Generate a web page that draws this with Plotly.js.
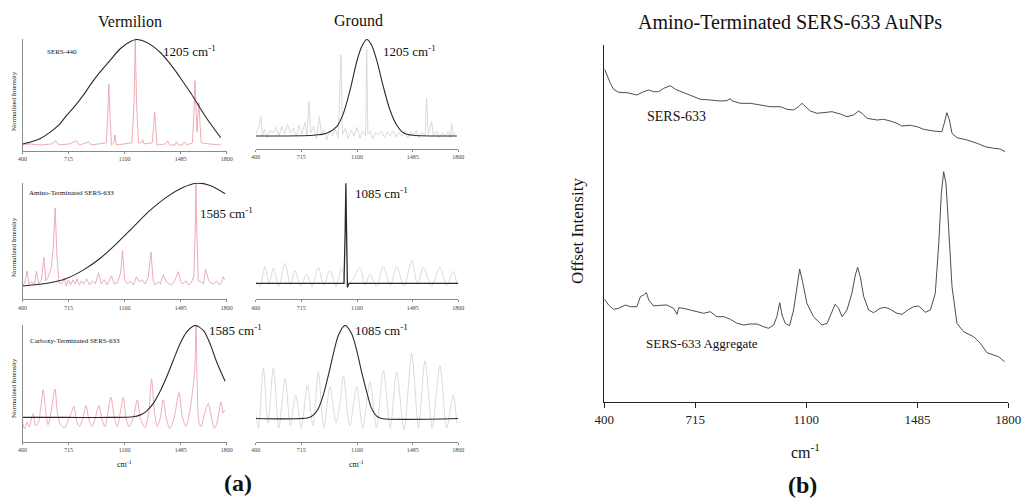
<!DOCTYPE html>
<html>
<head>
<meta charset="utf-8">
<script src="https://cdn.plot.ly/plotly-3.0.1.min.js"></script>
<style>html,body{margin:0;padding:0;background:#fff;}#chart{width:1022px;height:498px;}</style>
</head>
<body>
<div id="chart"></div>
<script>
// ---------- DATA ----------
const tickVals = [400, 715, 1100, 1485, 1800];
const tickText = ['400', '715', '1100', '1485', '1800'];

// (a) Vermilion, SERS-440
const v1SpecX = [400,450,520,600,629,650,720,771,790,857,870,940,975,985,992,1000,1010,1025,1034,1042,1100,1150,1165,1173,1182,1195,1215,1224,1233,1290,1300,1306,1312,1322,1380,1395,1410,1445,1457,1470,1495,1509,1525,1565,1575,1583,1591,1597,1603,1610,1617,1625,1680,1759];
const v1SpecY = [0.0,0.01,0.0,0.01,0.04,0.0,0.01,0.04,0.0,0.03,0.0,0.01,0.02,0.3,0.58,0.3,0.0,0.02,0.095,0.0,0.01,0.02,0.4,1.0,0.4,0.02,0.02,0.05,0.01,0.02,0.2,0.315,0.2,0.0,0.01,0.04,0.0,0.0,0.03,0.0,0.0,0.03,0.0,0.02,0.3,0.61,0.3,0.12,0.3,0.40,0.2,0.02,0.01,0.0];
const v1FitX = [400,460,519,588,650,702,760,816,870,931,999,1068,1137,1182,1230,1300,1350,1400,1450,1500,1550,1600,1650,1700,1759];
const v1FitY = [0.01,0.03,0.06,0.12,0.19,0.28,0.37,0.47,0.58,0.69,0.80,0.91,0.98,1.0,0.985,0.93,0.87,0.79,0.70,0.60,0.50,0.39,0.28,0.18,0.07];

// (a) Ground, SERS-440
const g1SpecX = [400,420,435,445,460,480,500,520,540,560,580,600,620,640,660,680,700,720,740,755,768,780,800,820,840,855,870,890,910,930,950,970,989,1000,1020,1040,1060,1080,1100,1120,1140,1160,1167,1175,1190,1210,1230,1250,1270,1290,1310,1330,1350,1370,1390,1410,1430,1450,1470,1490,1510,1530,1550,1570,1581,1592,1605,1616,1628,1650,1670,1690,1710,1730,1745,1754,1765,1780];
const g1SpecY = [0.02,0.08,0.2,0.0,0.07,-0.02,0.06,0.03,0.09,0.0,0.1,0.02,0.12,0.03,0.08,0.0,0.11,0.02,0.14,0.0,0.36,0.03,0.1,-0.03,0.2,0.0,0.06,-0.04,0.05,0.0,0.07,-0.02,0.84,0.02,0.08,-0.03,0.06,0.0,0.09,-0.02,0.05,0.0,0.9,0.02,0.05,-0.03,0.04,0.01,0.05,-0.02,0.04,0.0,0.05,-0.01,0.04,0.0,0.05,-0.02,0.04,0.01,0.06,-0.02,0.04,0.0,0.39,0.02,0.08,0.15,0.0,0.05,-0.02,0.04,0.0,0.05,-0.02,0.13,0.0,0.04];
const g1FitX = [400,798,890,960,1006,1052,1098,1132,1167,1201,1236,1282,1328,1374,1420,1489,1754,1790];
const g1FitY = [0.0,0.007,0.028,0.097,0.234,0.476,0.769,0.924,1.0,0.941,0.786,0.51,0.269,0.114,0.034,0.007,0.0,0.0];

// (a) Vermilion, Amino-Terminated SERS-633
const v2SpecX = [400,415,432,445,465,480,496,510,530,546,560,580,599,612,624,636,650,670,686,700,715,730,745,760,775,790,805,820,840,860,880,900,921,940,960,980,1010,1030,1050,1072,1086,1100,1120,1140,1160,1182,1200,1220,1240,1262,1281,1295,1310,1330,1345,1365,1385,1400,1420,1440,1468,1485,1500,1520,1540,1560,1575,1583,1589,1595,1605,1625,1640,1656,1675,1690,1710,1730,1750,1765,1777,1785];
const v2SpecY = [0.0,0.03,0.145,0.02,0.04,0.01,0.145,0.02,0.06,0.28,0.05,0.1,0.19,0.4,0.76,0.3,0.03,0.02,0.08,0.0,0.06,0.01,0.06,0.02,0.07,0.01,0.05,0.02,0.07,0.01,0.05,0.02,0.13,0.02,0.06,0.01,0.1,0.02,0.03,0.12,0.35,0.06,0.02,0.05,0.01,0.09,0.04,0.06,0.02,0.08,0.33,0.06,0.01,0.04,0.02,0.11,0.04,0.03,0.01,0.04,0.14,0.04,0.02,0.05,0.01,0.04,0.1,0.5,1.0,0.5,0.05,0.04,0.02,0.165,0.06,0.03,0.02,0.05,0.01,0.04,0.09,0.06];
const v2FitX = [400,588,702,816,931,1045,1159,1274,1388,1503,1594,1686,1789];
const v2FitY = [0.0,0.032,0.074,0.155,0.268,0.413,0.574,0.735,0.865,0.961,1.0,0.977,0.897];

// (a) Ground, Amino-Terminated SERS-633
const g2SpecX = [400,430,464,490,505,522,560,603,640,672,710,752,790,833,870,913,955,994,1030,1075,1121,1155,1190,1235,1282,1330,1374,1425,1478,1518,1558,1615,1673,1720,1765,1790];
const g2SpecY = [0.02,-0.03,0.17,0.0,0.05,0.15,-0.03,0.2,-0.02,0.13,-0.03,0.09,-0.03,0.16,-0.02,0.13,-0.03,0.15,-0.02,0.05,0.16,-0.02,0.09,-0.03,0.17,-0.02,0.165,-0.03,0.23,-0.01,0.16,-0.03,0.16,-0.02,0.12,0.0];
const g2FitX = [400,1010,1018,1023,1028,1034,1045,1800];
const g2FitY = [0.0,0.0,0.5,1.0,0.5,-0.04,0.0,0.0];

// (a) Vermilion, Carboxy-Terminated SERS-633
const v3SpecX = [400,415,430,445,473,490,510,525,542,560,575,600,622,640,660,690,715,735,752,770,790,815,835,855,875,900,924,945,965,985,1006,1030,1050,1070,1091,1110,1130,1160,1187,1210,1240,1265,1285,1305,1325,1345,1365,1385,1410,1440,1473,1495,1520,1545,1567,1580,1590,1597,1610,1625,1650,1674,1695,1715,1735,1761,1775,1785];
const v3SpecY = [-0.06,-0.12,-0.05,-0.1,0.04,-0.09,-0.05,0.1,0.3,0.05,-0.08,0.1,0.31,0.05,-0.08,-0.11,-0.02,0.05,0.12,-0.03,-0.1,0.0,0.13,-0.02,-0.1,0.0,0.13,-0.02,-0.1,0.05,0.22,0.0,-0.1,0.05,0.22,0.0,-0.1,0.0,0.19,-0.02,-0.11,0.05,0.42,0.05,-0.1,0.0,0.19,0.0,-0.12,0.0,0.27,0.02,-0.1,0.05,0.3,0.5,1.0,0.4,-0.05,-0.1,0.05,0.15,0.0,-0.12,-0.05,0.17,0.05,0.08];
const v3FitX = [400,700,1000,1159,1205,1251,1297,1342,1388,1434,1480,1525,1583,1640,1686,1731,1789];
const v3FitY = [0.0,0.0,0.0,0.007,0.025,0.069,0.152,0.278,0.44,0.621,0.801,0.928,1.0,0.946,0.801,0.603,0.394];

// (a) Ground, Carboxy-Terminated SERS-633
const g3SpecX = [400,420,453,485,522,560,603,640,676,715,757,795,833,870,913,955,985,1006,1050,1098,1140,1190,1235,1282,1330,1374,1425,1478,1525,1570,1620,1673,1720,1765,1790];
const g3SpecY = [0.05,-0.1,0.54,-0.05,0.54,-0.1,0.43,-0.08,0.25,-0.1,0.36,-0.08,0.5,-0.1,0.34,-0.05,0.2,0.46,-0.08,0.34,-0.1,0.39,-0.1,0.52,-0.1,0.5,-0.12,0.70,-0.1,0.62,-0.1,0.57,-0.1,0.25,-0.05];
const g3FitX = [400,764,798,833,867,902,937,971,1017,1063,1098,1132,1167,1201,1236,1270,1800];
const g3FitY = [0.0,0.007,0.036,0.107,0.25,0.464,0.696,0.893,1.0,0.911,0.732,0.5,0.286,0.107,0.025,0.0,0.0];

// (b) Amino-Terminated SERS-633 AuNPs (offset intensity, arbitrary units)
const sersX = [401,409,421,432,450,479,513,536,554,571,588,606,629,646,675,709,733,767,802,825,837,842,871,906,941,975,1010,1033,1056,1073,1085,1097,1114,1137,1160,1189,1218,1241,1264,1281,1293,1310,1345,1368,1391,1414,1431,1460,1484,1507,1541,1570,1578,1587,1596,1605,1622,1657,1692,1720,1749,1772,1789];
const sersY = [332.7,327,318.7,312.7,309.7,309.3,307,310.3,312,310.3,310.3,313.7,316.3,312.7,309.3,305.3,302.7,302,301,301.3,303.3,301.3,298.7,298.7,297,295.3,295.3,292.7,292,295.3,298.7,295.3,291,288.7,289.3,290.3,288,285.3,287,291,288.7,283.7,282,282.7,281,278.7,276,276.7,275.3,272.7,271,270.3,278.7,289.3,282,268.7,264.3,262,258.7,255.3,253.7,253,250.3];
const aggX = [401,415,432,450,473,490,513,525,536,546,554,571,594,617,640,652,658,675,698,721,744,767,790,814,837,860,883,906,929,952,969,987,998,1008,1016,1027,1042,1056,1068,1077,1087,1102,1125,1154,1172,1189,1200,1212,1224,1241,1258,1270,1278,1287,1299,1316,1333,1356,1374,1391,1414,1432,1455,1472,1489,1501,1512,1530,1547,1559,1568,1576,1584,1593,1605,1622,1645,1680,1703,1726,1749,1766,1787];
const aggY = [102.7,97,92.7,93.7,97,95.3,95.3,105.3,107,109.3,102,96,96.7,97,93.7,87.7,94.3,93.7,92,90.3,88.7,90.3,85.3,85.3,82.7,78.7,77,78,78,75.3,73.7,77,85.3,99.3,87,78.7,76.3,92,115.3,133,120.3,98.7,85.3,77,78.7,89.3,97.7,93.7,85.3,92,108.7,127,134.7,125.3,105.3,92,89.3,93.7,94.7,92.7,88.7,87.7,92.7,95.3,96,93,89.7,92,108.7,158.7,208.7,230.3,218.7,175.3,115.3,78.7,70.3,65.3,58.7,49.3,47,45.3,40.3];

// ---------- LAYOUT HELPERS ----------
const W = 1022, H = 498;
const fx = p => p / W;
const fy = p => 1 - p / H;
const dx = (a, b) => [fx(a), fx(b)];
const dy = (top, bot) => [fy(bot), fy(top)];
const SERIF = 'Liberation Serif, Times New Roman, serif';

const PINK = '#eca3ad';
const GRAY = '#d6d6d6';
const BLK = '#2a2a2a';

function spec(x, y, ax, color, shape, w) {
  return {x: x, y: y, xaxis: 'x' + ax, yaxis: 'y' + ax, type: 'scatter', mode: 'lines',
    line: {color: color, width: w || 0.9, shape: shape || 'linear', smoothing: 0.8},
    hoverinfo: 'skip', showlegend: false};
}

const data = [
  spec(v1SpecX, v1SpecY, '', PINK),
  spec(v1FitX, v1FitY, '', BLK, 'spline', 1.1),
  spec(g1SpecX, g1SpecY, '2', GRAY),
  spec(g1FitX, g1FitY, '2', BLK, 'spline', 1.1),
  spec(v2SpecX, v2SpecY, '3', PINK),
  spec(v2FitX, v2FitY, '3', BLK, 'spline', 1.1),
  spec(g2SpecX, g2SpecY, '4', GRAY, 'spline'),
  spec(g2FitX, g2FitY, '4', BLK, 'linear', 1.3),
  spec(v3SpecX, v3SpecY, '5', PINK, 'spline'),
  spec(v3FitX, v3FitY, '5', BLK, 'spline', 1.1),
  spec(g3SpecX, g3SpecY, '6', GRAY, 'spline'),
  spec(g3FitX, g3FitY, '6', BLK, 'spline', 1.1),
  spec(sersX, sersY, '7', '#3a3a3a', 'linear', 0.9),
  spec(aggX, aggY, '7', '#3a3a3a', 'linear', 0.9)
];

function xA(dom, anchor) {
  return {domain: dom, anchor: anchor, range: [400, 1800], tickmode: 'array', tickvals: tickVals, ticktext: tickText,
    showline: true, linecolor: '#8a8a8a', linewidth: 1, ticks: 'outside', ticklen: 2, tickcolor: '#8a8a8a', tickwidth: 1,
    tickfont: {family: SERIF, size: 6, color: '#444'}, showgrid: false, zeroline: false, fixedrange: true};
}
function yA(dom, anchor, rng, line) {
  return {domain: dom, anchor: anchor, range: rng, showticklabels: false, ticks: '', showgrid: false, zeroline: false,
    showline: line, linecolor: '#8a8a8a', linewidth: 1, fixedrange: true};
}

const LX = dx(22.5, 226.7), GX = dx(255.7, 458.3);
const R1 = dy(39, 151), R2 = dy(182.7, 299.3), R3 = dy(325, 441.7);

const layout = {
  width: W, height: H, margin: {l: 0, r: 0, t: 0, b: 0}, paper_bgcolor: '#fff', plot_bgcolor: 'rgba(0,0,0,0)',
  showlegend: false, font: {family: SERIF, color: '#222'},
  xaxis: xA(LX, 'y'), yaxis: yA(R1, 'x', [-0.057, 1.005], true),
  xaxis2: xA(GX, 'y2'), yaxis2: yA(dy(39, 149), 'x2', [-0.135, 1.005], false),
  xaxis3: xA(LX, 'y3'), yaxis3: yA(R2, 'x3', [-0.129, 1.005], true),
  xaxis4: xA(GX, 'y4'), yaxis4: yA(R2, 'x4', [-0.159, 1.005], false),
  xaxis5: xA(LX, 'y5'), yaxis5: yA(R3, 'x5', [-0.264, 1.005], true),
  xaxis6: xA(GX, 'y6'), yaxis6: yA(R3, 'x6', [-0.25, 1.005], false),
  xaxis7: {domain: dx(604.3, 1008.3), anchor: 'y7', range: [400, 1800], tickmode: 'array', tickvals: tickVals, ticktext: tickText,
    showline: true, linecolor: '#222', linewidth: 1.2, ticks: 'outside', ticklen: 5, tickcolor: '#222', tickwidth: 1,
    tickfont: {family: SERIF, size: 13, color: '#222'}, showgrid: false, zeroline: false, fixedrange: true},
  yaxis7: {domain: dy(45, 402), anchor: 'x7', range: [0, 357], showticklabels: false, ticks: '', showgrid: false, zeroline: false,
    showline: true, linecolor: '#222', linewidth: 1.2, fixedrange: true},
  annotations: []
};

function ann(text, x, y, size, opts) {
  const a = Object.assign({text: text, x: fx(x), y: fy(y), xref: 'paper', yref: 'paper', showarrow: false,
    xanchor: 'center', yanchor: 'middle', font: {family: SERIF, size: size, color: '#111'}}, opts || {});
  layout.annotations.push(a);
}

ann('Vermilion', 130, 22, 16);
ann('Ground', 358, 20, 16);
ann('SERS-440', 62, 52, 7);
ann('Amino-Terminated SERS-633', 71, 193, 7);
ann('Carboxy-Terminated SERS-633', 75, 341, 7);
ann('1205 cm<sup>-1</sup>', 161, 51, 13, {xanchor: 'left'});
ann('1205 cm<sup>-1</sup>', 381, 51, 13, {xanchor: 'left'});
ann('1585 cm<sup>-1</sup>', 198, 213, 13, {xanchor: 'left'});
ann('1085 cm<sup>-1</sup>', 353, 193, 13, {xanchor: 'left'});
ann('1585 cm<sup>-1</sup>', 207, 330, 13, {xanchor: 'left'});
ann('1085 cm<sup>-1</sup>', 353, 330, 13, {xanchor: 'left'});
ann('Normalized Intensity', 14, 101, 7, {textangle: -90});
ann('Normalized Intensity', 14, 247, 7, {textangle: -90});
ann('Normalized Intensity', 14, 388, 7, {textangle: -90});
ann('cm<sup>-1</sup>', 124, 464, 8);
ann('cm<sup>-1</sup>', 356, 464, 8);
ann('<b>(a)</b>', 238, 483, 24);
ann('Amino-Terminated SERS-633 AuNPs', 790, 22, 20);
ann('Offset Intensity', 577, 231, 17, {textangle: -90});
ann('SERS-633', 676, 116, 14);
ann('SERS-633 Aggregate', 702, 343, 13);
ann('cm<sup>-1</sup>', 805, 451, 16);
ann('<b>(b)</b>', 802, 485, 24);

Plotly.newPlot('chart', data, layout, {staticPlot: true, displayModeBar: false});
</script>
</body>
</html>
